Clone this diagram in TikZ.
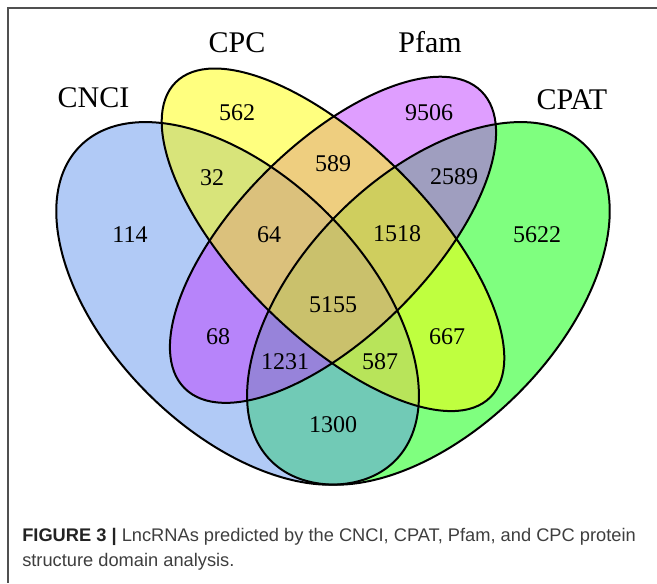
\documentclass[tikz,border=0pt]{standalone}
\usepackage{fontspec}
\setmainfont{Liberation Serif}
\newfontfamily\capfont{Liberation Sans}
\usetikzlibrary{positioning, calc}

\definecolor{cnciblue}{RGB}{100,149,237}
\definecolor{cpcyellow}{RGB}{255,255,0}
\definecolor{pfamorchid}{RGB}{191,62,255}
\definecolor{cpatgreen}{RGB}{0,255,0}
\definecolor{framegray}{RGB}{80,80,80}
\definecolor{captext}{RGB}{62,62,62}
\definecolor{capbold}{RGB}{35,35,35}

\tikzset{
  setfill/.style={fill=#1, fill opacity=0.5},
  setline/.style={draw=black, line width=1.5pt},
  setname/.style={font=\fontsize{22.5}{26}\selectfont, anchor=base},
  count/.style={font=\fontsize{18}{20}\selectfont},
  caption/.style={font=\capfont\fontsize{13.7}{16}\selectfont, text=captext, anchor=base west, inner sep=0pt},
}

\begin{document}
\begin{tikzpicture}[x=0.75pt, y=0.75pt]
	\useasboundingbox (0,0) rectangle (657,583);
	\draw[framegray, line width=1.1pt] (657,575) -- (8,575) -- (8,0);

	% centres of the four sets
	\coordinate (cnci) at (237.6,279.6);
	\coordinate (cpat) at (428.4,279.6);
	\coordinate (cpc)  at (333,343.2);
	\coordinate (pfam) at (333,343.2);

	% fills, in the order the colours are stacked
	\fill[setfill=cpatgreen, rotate around={45:(cpat)}] (cpat) ellipse [x radius=222.6, y radius=127.2];
	\fill[setfill=cnciblue, rotate around={-45:(cnci)}] (cnci) ellipse [x radius=222.6, y radius=127.2];
	\fill[setfill=pfamorchid, rotate around={45:(pfam)}] (pfam) ellipse [x radius=209.9, y radius=95.4];
	\fill[setfill=cpcyellow, rotate around={-45:(cpc)}] (cpc) ellipse [x radius=222.6, y radius=95.4];

	% outlines
	\draw[setline, rotate around={45:(cpat)}] (cpat) ellipse [x radius=222.6, y radius=127.2];
	\draw[setline, rotate around={-45:(cnci)}] (cnci) ellipse [x radius=222.6, y radius=127.2];
	\draw[setline, rotate around={45:(pfam)}] (pfam) ellipse [x radius=209.9, y radius=95.4];
	\draw[setline, rotate around={-45:(cpc)}] (cpc) ellipse [x radius=222.6, y radius=95.4];

	% set names
	\node[setname] (nameCNCI) at (93.5,475) {CNCI};
	\node[setname] (nameCPC)  at (237,530) {CPC};
	\node[setname] (namePfam) at (430,530) {Pfam};
	\node[setname] (nameCPAT) at (572,473) {CPAT};

	% region counts
	\node[count] (n562)  at (237,470) {562};
	\node[count] (n9506) at (429,470) {9506};
	\node[count] (n32)   at (212,405) {32};
	\node[count] (n589)  at (333,419) {589};
	\node[count] (n2589) at (454,406) {2589};
	\node[count] (n114)  at (130,348) {114};
	\node[count] (n64)   at (269,348) {64};
	\node[count] (n1518) at (397,349) {1518};
	\node[count] (n5622) at (537,348) {5622};
	\node[count] (n5155) at (333,278) {5155};
	\node[count] (n68)   at (218,246) {68};
	\node[count] (n667)  at (447,246) {667};
	\node[count] (n1231) at (285,221) {1231};
	\node[count] (n587)  at (380,221) {587};
	\node[count] (n1300) at (333,158) {1300};

	% caption
	\node[caption] (cap1) at (22,42) {\textcolor{capbold}{\textbf{FIGURE 3 |}} LncRNAs predicted by the CNCI, CPAT, Pfam, and CPC protein};
	\node[caption] (cap2) at (22,17) {structure domain analysis.};
\end{tikzpicture}
\end{document}
